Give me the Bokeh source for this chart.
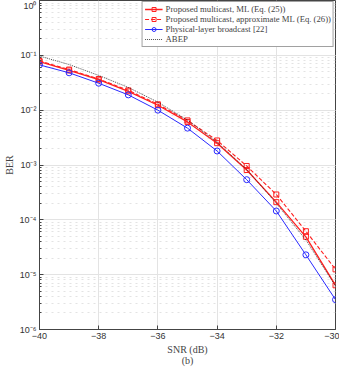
from bokeh.plotting import figure
from bokeh.models import CustomJSTickFormatter, FixedTicker, Legend, LegendItem
from bokeh.embed import file_html
from bokeh.resources import INLINE

snr = [-40, -39, -38, -37, -36, -35, -34, -33, -32, -31, -30]
ber_ml = [0.077, 0.053, 0.036, 0.022, 0.0123, 0.0061, 0.0025, 0.00081, 0.00021, 4.9e-5, 6.4e-6]
ber_aml = [0.079, 0.055, 0.037, 0.023, 0.0128, 0.0065, 0.0028, 0.00096, 0.00029, 6.2e-5, 1.25e-5]
ber_bc = [0.067, 0.048, 0.031, 0.019, 0.0100, 0.0047, 0.0018, 0.00054, 0.000145, 2.3e-5, 3.5e-6]
ber_abep = [0.097, 0.068, 0.043, 0.026, 0.014, 0.0066, 0.0026, 0.00083, 0.0002, 4.3e-5, 6.2e-6]
x_ticks = [-40, -38, -36, -34, -32, -30]

RED = "#ff2020"
BLUE = "#2a2aff"

p = figure(frame_width=296, frame_height=329, y_axis_type="log", x_range=(-40, -30), y_range=(1e-6, 1),
           output_backend="svg", toolbar_location=None, min_border_top=0, min_border_right=4,
           min_border_left=34, min_border_bottom=0, outline_line_color="#444444")

sup = CustomJSTickFormatter(code="""
const m = {'-':'\u207b','0':'\u2070','1':'\u00b9','2':'\u00b2','3':'\u00b3','4':'\u2074','5':'\u2075','6':'\u2076','7':'\u2077','8':'\u2078','9':'\u2079'};
const e = String(Math.round(Math.log10(tick)));
let s = '';
for (const c of e) s += m[c];
return '10' + s;
""")

p.yaxis.formatter = sup
p.xaxis.ticker = FixedTicker(ticks=x_ticks)
for ax in [p.xaxis[0], p.yaxis[0]]:
    ax.major_label_text_font = "Liberation Sans"
    ax.major_label_text_font_size = "9px"
    ax.major_label_text_color = "#333333"
    ax.axis_label_text_font = "Liberation Serif"
    ax.axis_label_text_font_style = "normal"
    ax.axis_label_text_font_size = "10px"
    ax.major_tick_in = 4
    ax.major_tick_out = 0
    ax.minor_tick_in = 2
    ax.minor_tick_out = 0
    ax.axis_line_color = "#444444"
    ax.major_tick_line_color = "#444444"
    ax.minor_tick_line_color = "#444444"
    ax.axis_label_standoff = 2
    ax.major_label_standoff = 3
p.xaxis.minor_tick_line_color = None
p.xaxis.axis_label = "SNR (dB)\n(b)"
p.xaxis.axis_label_text_line_height = 1.0
p.yaxis.axis_label = "BER"

p.xgrid.grid_line_color = "#e3e3e3"
p.ygrid.grid_line_color = "#e3e3e3"
p.ygrid.minor_grid_line_color = "#e3e3e3"
p.ygrid.minor_grid_line_dash = "dotted"

l1 = p.line(snr, ber_ml, line_color=RED, line_width=1.3)
m1 = p.scatter(snr, ber_ml, marker="square", size=5, fill_color=None, line_color=RED, line_width=1)
l2 = p.line(snr, ber_aml, line_color=RED, line_width=1.1, line_dash="4 2")
m2 = p.scatter(snr, ber_aml, marker="square", size=5, fill_color=None, line_color=RED, line_width=1)
l3 = p.line(snr, ber_bc, line_color=BLUE, line_width=1)
m3 = p.scatter(snr, ber_bc, marker="circle", size=6, fill_color=None, line_color=BLUE, line_width=1)
l4 = p.line(snr, ber_abep, line_color="#222222", line_width=0.8, line_dash="1 1")

legend = Legend(items=[
    LegendItem(label="Proposed multicast, ML (Eq. (25))", renderers=[l1, m1]),
    LegendItem(label="Proposed multicast, approximate ML (Eq. (26))", renderers=[l2, m2]),
    LegendItem(label="Physical-layer broadcast [22]", renderers=[l3, m3]),
    LegendItem(label="ABEP", renderers=[l4]),
], location="top_right", label_text_font="Liberation Serif", label_text_font_size="8.7px",
   glyph_width=18, glyph_height=10, label_height=10, spacing=0, padding=2, margin=1,
   label_standoff=3, border_line_color="#444444", background_fill_alpha=1)
p.add_layout(legend)

open("out.html", "w").write(file_html(p, INLINE))
